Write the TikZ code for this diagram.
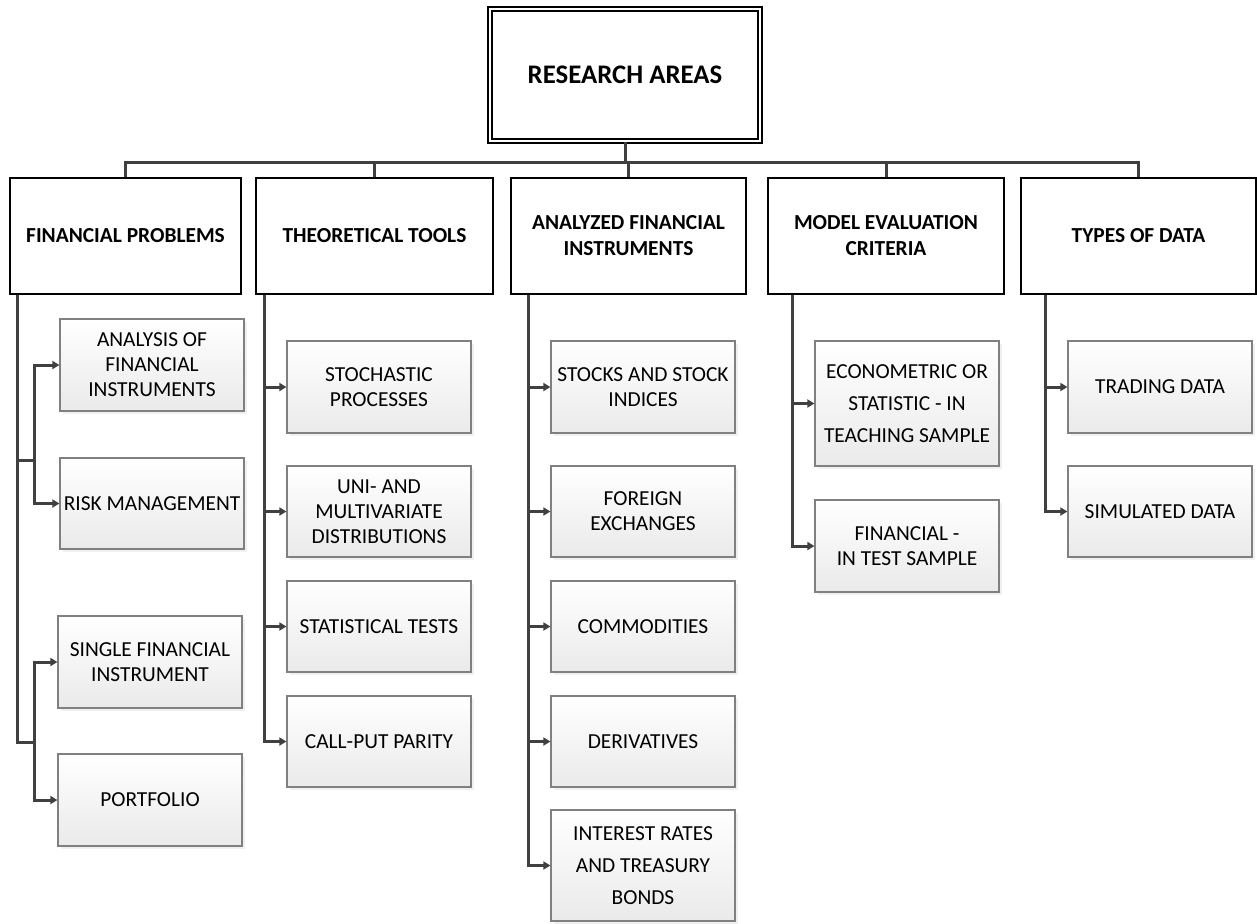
\documentclass[tikz,border=0pt]{standalone}
\usepackage{fontspec}
\setmainfont{Carlito}
\usetikzlibrary{arrows.meta,shadows,positioning}
\definecolor{linegray}{RGB}{64,64,64}
\definecolor{boxgray}{RGB}{128,128,128}
\definecolor{fillgray}{RGB}{234,234,234}

\begin{document}
\begin{tikzpicture}[x=0.5pt,y=-0.5pt,
    root/.style={draw, double, line width=1pt, double distance=1pt,
        minimum width=135pt, minimum height=66pt,
        font=\fontsize{13.4}{16}\selectfont\bfseries},
    area/.style={draw, line width=1pt, minimum height=58pt, inner sep=0pt,
        align=center, font=\fontsize{10.7}{13}\selectfont\bfseries},
    leaf/.style={draw=boxgray, line width=0.6pt, top color=white,
        bottom color=fillgray, minimum width=92pt, inner sep=0pt,
        drop shadow={shadow xshift=1.5pt, shadow yshift=-1.5pt, opacity=0.12},
        align=center, font=\fontsize{10.7}{12.5}\selectfont},
    link/.style={draw=linegray, line width=1.5pt},
    arr/.style={link, -{Triangle[length=3.5pt,width=4pt]}}]
    \useasboundingbox (0,0) rectangle (1257,923);

    % top of the tree
    \node[root] (ra) at (625,75) {RESEARCH AREAS};

    \node[area, minimum width=115.5pt] (fp) at (125.5,235.5) {FINANCIAL PROBLEMS};
    \node[area, minimum width=118.5pt] (tt) at (374.5,235.5) {THEORETICAL TOOLS};
    \node[area, minimum width=117.5pt] (afi) at (628.5,235.5) {ANALYZED FINANCIAL\\INSTRUMENTS};
    \node[area, minimum width=118pt] (mec) at (886,235.5) {MODEL EVALUATION\\CRITERIA};
    \node[area, minimum width=117.5pt] (tod) at (1138.5,235.5) {TYPES OF DATA};

    \coordinate (bus) at (625,162);
    \draw[link] (ra.south) -- (bus);
    \foreach \n in {fp,tt,afi,mec,tod}
        \draw[link] (bus) -| (\n.north);

    % leaves
    \foreach \n/\x/\y/\h/\t in {
        an/152/365/46/{ANALYSIS OF\\FINANCIAL\\INSTRUMENTS},
        rm/152/503.5/45.5/{RISK MANAGEMENT},
        sfi/150/662/46/{SINGLE FINANCIAL\\INSTRUMENT},
        pf/150/800/46/{PORTFOLIO},
        sp/379/387/46/{STOCHASTIC\\PROCESSES},
        umd/379/511.5/45.5/{UNI- AND\\MULTIVARIATE\\DISTRIBUTIONS},
        st/379/626.5/45.5/{STATISTICAL TESTS},
        cpp/379/741.5/45.5/{CALL-PUT PARITY},
        ssi/643/387/46/{STOCKS AND STOCK\\INDICES},
        fe/643/511.5/45.5/{FOREIGN\\EXCHANGES},
        com/643/626.5/45.5/{COMMODITIES},
        der/643/741.5/45.5/{DERIVATIVES},
        fin/907/546/46/{FINANCIAL -\\IN TEST SAMPLE},
        trd/1160/387/46/{TRADING DATA},
        sim/1160/511.5/45.5/{SIMULATED DATA}}
        \node[leaf, minimum height=\h pt] (\n) at (\x,\y) {\t};
    \node[leaf, minimum height=55.5pt, font=\fontsize{10.7}{16}\selectfont]
        (irt) at (643,865.5) {INTEREST RATES\\AND TREASURY\\BONDS};
    \node[leaf, minimum height=62.5pt, font=\fontsize{10.7}{16}\selectfont]
        (eco) at (907,403.5) {ECONOMETRIC OR\\STATISTIC - IN\\TEACHING SAMPLE};

    % column connectors
    \coordinate (fpT) at ([xshift=4pt]fp.south west);
    \coordinate (j1) at (34,460);
    \coordinate (j2) at (34,742);
    \draw[link] (fpT) |- (j2);
    \draw[link] (fpT |- j1) -- (j1);
    \draw[arr] (j1) |- (an.west);
    \draw[arr] (j1) |- (rm.west);
    \draw[arr] (j2) |- (sfi.west);
    \draw[arr] (j2) |- (pf.west);

    \coordinate (ttT) at ([xshift=4.5pt]tt.south west);
    \foreach \n in {sp,umd,st,cpp}
        \draw[arr] (ttT) |- (\n.west);

    \coordinate (afiT) at ([xshift=9pt]afi.south west);
    \foreach \n in {ssi,fe,com,der,irt}
        \draw[arr] (afiT) |- (\n.west);

    \coordinate (mecT) at ([xshift=12.5pt]mec.south west);
    \foreach \n in {eco,fin}
        \draw[arr] (mecT) |- (\n.west);

    \coordinate (todT) at ([xshift=12.5pt]tod.south west);
    \foreach \n in {trd,sim}
        \draw[arr] (todT) |- (\n.west);
\end{tikzpicture}
\end{document}
